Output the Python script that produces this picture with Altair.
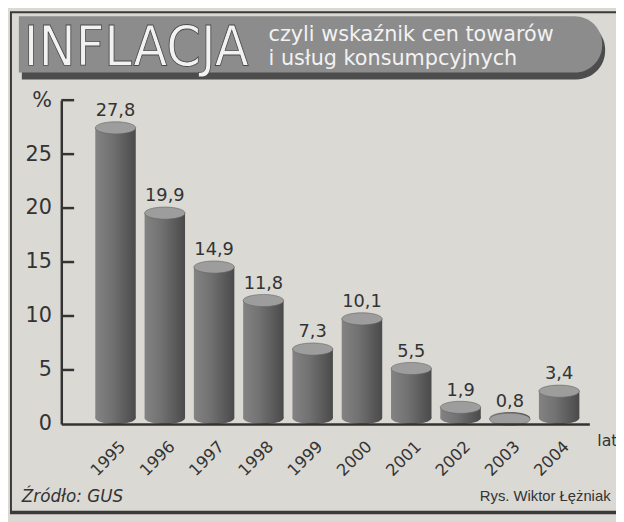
import altair as alt
import pandas as pd

# ---- data ----
years = [1995, 1996, 1997, 1998, 1999, 2000, 2001, 2002, 2003, 2004]
values = [27.8, 19.9, 14.9, 11.8, 7.3, 10.1, 5.5, 1.9, 0.8, 3.4]
labels = [f"{v:.1f}".replace(".", ",") for v in values]
y_ticks = [0, 5, 10, 15, 20, 25, 30]

title_main = "INFLACJA"
title_sub1 = "czyli wskaźnik cen towarów"
title_sub2 = "i usług konsumpcyjnych"
source_txt = "Źródło: GUS"
author_txt = "Rys. Wiktor Łężniak"
x_unit = "lat"

df = pd.DataFrame({"year": years, "value": values, "label": labels})
tick_df = pd.DataFrame({"tick": y_ticks[1:]})

FONT = "DejaVu Sans"
INK = "#333333"
BG = "#dad9d4"
ELL = "M-1,0A1,0.3,0,1,0,1,0A1,0.3,0,1,0,-1,0Z"
BW = 41

body_grad = alt.Gradient(
    gradient="linear",
    stops=[
        alt.GradientStop(color="#838383", offset=0),
        alt.GradientStop(color="#727272", offset=0.4),
        alt.GradientStop(color="#4a4a4a", offset=1),
    ],
    x1=0, x2=1, y1=0, y2=0,
)

xscale = alt.Scale(domain=[1994.0, 2004.513], nice=False, zero=False)
yscale = alt.Scale(domain=[0, 30], nice=False, zero=True)

x_axis = alt.Axis(values=years, format="d", labelAngle=-45, labelAlign="right",
                  labelBaseline="middle", labelOffset=7, labelPadding=20,
                  ticks=False, domainWidth=2.5, domainColor=INK, grid=False,
                  labelFontSize=16.5, labelColor=INK, labelFont=FONT, title=None,
                  zindex=1, labelOverlap=False)
y_axis = alt.Axis(values=y_ticks, labelExpr="datum.value == 30 ? '%' : datum.label",
                  ticks=False, labelPadding=10, domainWidth=2.5, domainColor=INK,
                  grid=False, labelFontSize=21, labelColor=INK, labelFont=FONT,
                  title=None, zindex=1)

X = alt.X("year:Q", scale=xscale, axis=x_axis, title=None)
Y = alt.Y("value:Q", scale=yscale, axis=y_axis, title=None)

base = alt.Chart(df)

bottom_ell = base.mark_point(shape=ELL, size=BW * BW, filled=True, color=body_grad,
                             opacity=1, strokeWidth=0, yOffset=-6).encode(
    x=X, y=alt.Y(datum=0, scale=yscale, axis=y_axis, title=None))

body = base.mark_bar(size=BW, color=body_grad, yOffset=4, y2Offset=-6).encode(
    x=X, y=Y, y2=alt.datum(0))

top_ell = base.mark_point(shape=ELL, size=BW * BW, filled=True, fill="#9d9d9d",
                          stroke="#666666", strokeWidth=0.6, opacity=1, yOffset=4).encode(
    x=X, y=Y)

val_text = base.mark_text(dy=-8, baseline="alphabetic", fontSize=18, font=FONT,
                          color=INK).encode(x=X, y=Y, text="label:N")

ticks = alt.Chart(tick_df).mark_rule(strokeWidth=2.5, color=INK).encode(
    x=alt.value(0), x2=alt.value(13),
    y=alt.Y("tick:Q", scale=yscale, axis=y_axis, title=None))


def deco():
    return alt.Chart(alt.Data(values=[{"a": 1}]))


frame = deco().mark_rect(fillOpacity=0, stroke="#3a3a3a", strokeWidth=2).encode(
    x=alt.value(-51), x2=alt.value(575), y=alt.value(-89), y2=alt.value(417))
frame_bottom = deco().mark_rule(color="#3a3a3a", strokeWidth=3).encode(
    x=alt.value(-52), x2=alt.value(575), y=alt.value(418))

shadow = deco().mark_rect(color="#4d4d4d", cornerRadiusTopRight=29,
                          cornerRadiusBottomRight=29).encode(
    x=alt.value(-40), x2=alt.value(551), y=alt.value(-80), y2=alt.value(-21))
banner = deco().mark_rect(color="#8c8c8c", cornerRadiusTopRight=28,
                          cornerRadiusBottomRight=28).encode(
    x=alt.value(-43), x2=alt.value(548), y=alt.value(-85), y2=alt.value(-28))

t_main = deco().mark_text(text=title_main, font="DejaVu Sans Condensed, Liberation Sans",
                          fontSize=56, color="#f2f2f2", stroke="#4a4a4a", strokeWidth=0.8,
                          align="left", baseline="alphabetic").encode(
    x=alt.value(-38), y=alt.value(-36))
t_sub1 = deco().mark_text(text=title_sub1, font=FONT, fontSize=21, color="#f2f2f2",
                          align="left", baseline="alphabetic").encode(
    x=alt.value(210), y=alt.value(-60))
t_sub2 = deco().mark_text(text=title_sub2, font=FONT, fontSize=21, color="#f2f2f2",
                          align="left", baseline="alphabetic").encode(
    x=alt.value(210), y=alt.value(-36))

src = deco().mark_text(text=source_txt, font=FONT, fontSize=17, fontStyle="italic",
                       color=INK, align="left", baseline="alphabetic").encode(
    x=alt.value(-40), y=alt.value(407))
auth = deco().mark_text(text=author_txt, font="Liberation Sans", fontSize=15, color=INK,
                        align="left", baseline="alphabetic").encode(
    x=alt.value(424), y=alt.value(406))
lat = deco().mark_text(text=x_unit, font=FONT, fontSize=16, color=INK,
                       align="left", baseline="alphabetic").encode(
    x=alt.value(543), y=alt.value(350))

chart = alt.layer(
    frame, frame_bottom, shadow, banner, t_main, t_sub1, t_sub2,
    bottom_ell, body, top_ell, val_text, ticks, src, auth, lat,
).properties(
    width=535, height=328,
    autosize=alt.AutoSizeParams(type="none"),
    padding={"left": 54, "top": 90, "right": 27, "bottom": 96},
    background=BG,
).configure_view(strokeWidth=0)

chart.save("out.html", embed_options={"renderer": "svg", "actions": False})
